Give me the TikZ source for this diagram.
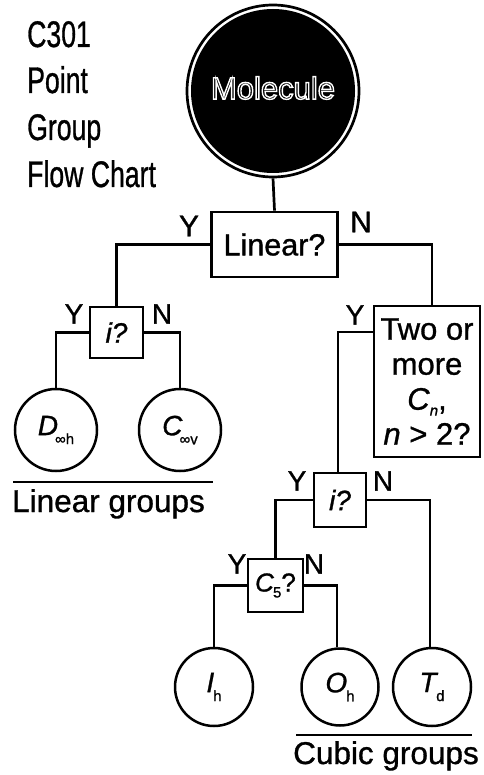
\documentclass[tikz,border=0pt]{standalone}
\usepackage{fontspec}
\setmainfont{Liberation Sans}[FakeBold=1]
\newfontfamily\molfont{Liberation Sans}
\newcommand\outl[1]{\special{pdf:literal direct 2 Tr 1.4 w 1 1 1 RG}#1\special{pdf:literal direct 0 Tr}}
\newcommand\sbs[2][6pt]{\raisebox{-#1}{\fontsize{15}{15}\selectfont #2}}
\newcommand\narrow[1]{\scalebox{0.72}[1]{#1}}
\begin{document}
\begin{tikzpicture}[x=1pt,y=-1pt,
  ln/.style={line width=2.7pt},
  qbox/.style={draw, line width=2.7pt, inner sep=0pt, font=\fontsize{28}{28}\selectfont},
  grp/.style={circle, draw, line width=2.5pt, inner sep=0pt, minimum size=80pt, font=\fontsize{28}{28}\selectfont},
  lab/.style={inner sep=0pt, font=\fontsize{28}{28}\selectfont},
  ttl/.style={inner sep=0pt, anchor=base west, font=\fontsize{37}{37}\selectfont},
  captext/.style={inner sep=0pt, anchor=base west, font=\fontsize{31.5}{31.5}\selectfont},
  rulestyle/.style={line width=2pt}]
\useasboundingbox (0,0) rectangle (483,775);
% title
\node[ttl] (t1) at (27,47) {\narrow{C301}};
\node[ttl] (t2) at (27,93) {\narrow{Point}};
\node[ttl] (t3) at (27,140) {\narrow{Group}};
\node[ttl] (t4) at (27,187) {\narrow{Flow Chart}};
% molecule
\node[circle, draw=black, fill=white, line width=2.7pt, minimum size=172pt, inner sep=0pt] (mol) at (273,91) {};
\fill[black] (mol.center) circle (82);
\node[inner sep=0pt, text=black, font=\molfont\fontsize{31}{31}\selectfont] (moltxt) at (273,88) {\outl{Molecule}};
% decision boxes
\node[qbox, minimum width=126pt, minimum height=65pt, font=\fontsize{30.5}{30.5}\selectfont] (lin) at (274.5,244.5) {Linear?};
\node[qbox, minimum width=53pt, minimum height=51pt] (i1) at (116.5,332.5) {\itshape i?};
\node[qbox, minimum width=106pt, minimum height=151pt, align=center, font=\fontsize{31}{35}\selectfont] (two) at (427,381.5)
  {Two or\\more\\\textit{C}\sbs{\textit{n}},\\\textit{n} > 2?};
\node[qbox, minimum width=52pt, minimum height=54pt] (i2) at (340,500) {\itshape i?};
\node[qbox, minimum width=55pt, minimum height=53pt, font=\fontsize{26}{26}\selectfont] (c5) at (275.5,585.5) {\textit{C}\kern-1pt\sbs{5}?};
% groups
\node[grp, minimum size=82pt] (D) at (56,430) {\textit{D}\kern-3pt\sbs[9pt]{∞h}};
\node[grp, minimum size=82pt] (C) at (180,430) {\textit{C}\kern-3pt\sbs[9pt]{∞v}};
\node[grp, minimum size=78pt] (Ih) at (214,687) {\textit{I}\kern-1pt\sbs[9pt]{h}};
\node[grp, minimum size=77pt] (Oh) at (340,687) {\textit{O}\kern-1pt\sbs[9pt]{h}};
\node[grp, minimum size=78pt] (Td) at (432,687) {\textit{T}\kern-2pt\sbs[9pt]{d}};
% connectors
\draw[ln] (mol.south) -- (lin.north);
\draw[ln] (lin.west) -| (i1.north);
\draw[ln] (lin.east) -| ([xshift=5pt]two.north);
\draw[ln] (i1.west) -| (D.north);
\draw[ln] (i1.east) -| (C.north);
\draw[ln] ([yshift=49.5pt]two.west) -| ([xshift=-2pt]i2.north);
\draw[ln] (i2.west) -| (c5.north);
\draw[ln] (i2.east) -| ([xshift=-2pt]Td.north);
\draw[ln] (c5.west) -| (Ih.north);
\draw[ln] (c5.east) -| ([xshift=-3pt]Oh.north);
% Y / N labels
\node[lab, font=\fontsize{30}{30}\selectfont] (ylin) at (189,226) {Y};
\node[lab, font=\fontsize{30}{30}\selectfont] (nlin) at (361,222) {N};
\node[lab] (yi1) at (74,314) {Y};
\node[lab] (ni1) at (162,314) {N};
\node[lab] (ytwo) at (355,315) {Y};
\node[lab] (yi2) at (297,481) {Y};
\node[lab] (ni2) at (383,481) {N};
\node[lab] (yc5) at (237,564) {Y};
\node[lab] (nc5) at (314,564) {N};
% group captions
\coordinate (lr1) at (13,482);
\coordinate (lr2) at (213,482);
\draw[rulestyle] (lr1) -- (lr2);
\node[captext] (lgrp) at (12,512) {Linear groups};
\coordinate (cr1) at (296,735);
\coordinate (cr2) at (472,735);
\draw[rulestyle] (cr1) -- (cr2);
\node[captext] (cgrp) at (293,764) {Cubic groups};
\end{tikzpicture}
\end{document}
